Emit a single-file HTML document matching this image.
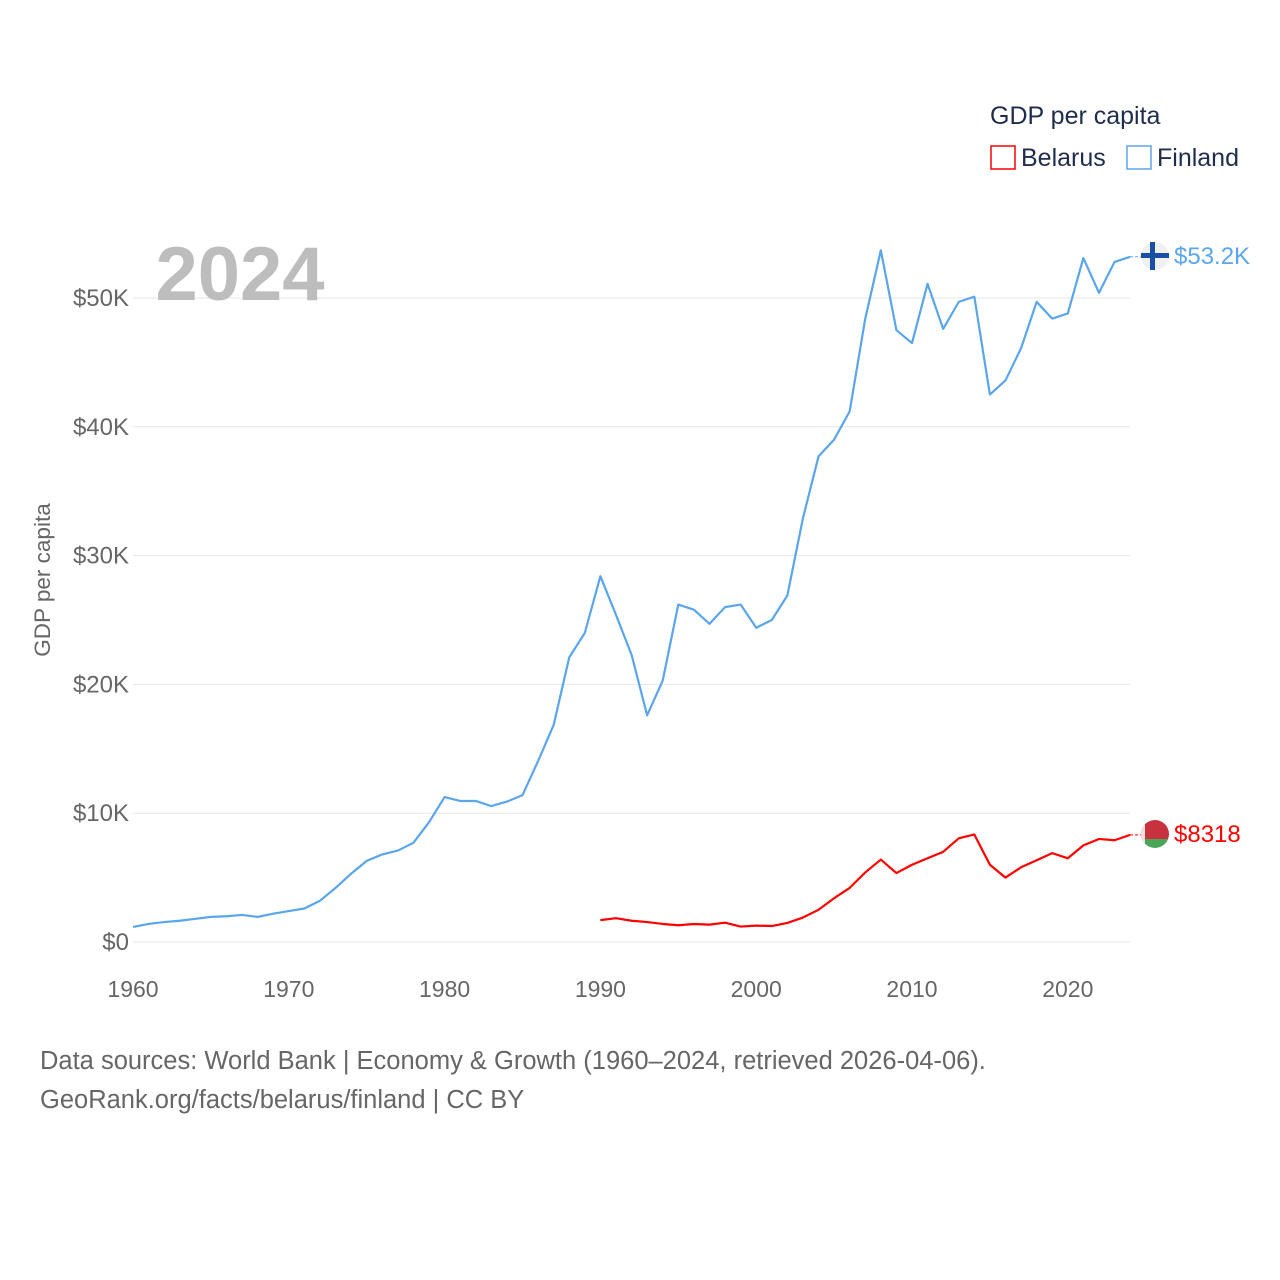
<!DOCTYPE html>
<html><head><meta charset="utf-8"><style>
body{margin:0;background:#fff;}
svg{display:block;font-family:"Liberation Sans",sans-serif;}
</style></head><body>
<svg id="chart" width="1280" height="1280">
  <g id="grid"></g>
  <g id="yticks"></g>
  <g id="xticks"></g>
  <text x="240" y="300" font-size="76" font-weight="bold" fill="#bdbdbd" text-anchor="middle">2024</text>
  <text transform="translate(50,580) rotate(-90)" font-size="22.5" fill="#666" text-anchor="middle">GDP per capita</text>
  <g id="series"></g>
  <g>
    <text x="990" y="124" font-size="25" fill="#1f2d4d">GDP per capita</text>
    <g>
      <rect x="991" y="146" width="24" height="23" fill="none" stroke="#ff0000" stroke-width="1.5"/>
      <text x="1021" y="166" font-size="25" fill="#1f2d4d">Belarus</text>
    </g>
    <g>
      <rect x="1127" y="146" width="24" height="23" fill="none" stroke="#5aa5ec" stroke-width="1.5"/>
      <text x="1157" y="166" font-size="25" fill="#1f2d4d">Finland</text>
    </g>
  </g>
  <g>
    <circle cx="1155" cy="256" r="14" fill="#f0f0f0"/>
    <rect x="1141" y="253" width="28" height="5" fill="#1a4fa8"/>
    <rect x="1150" y="242" width="5" height="28" fill="#1a4fa8"/>
  </g>
  <g>
    <clipPath id="bc"><circle cx="1155" cy="834" r="14"/></clipPath>
    <g clip-path="url(#bc)">
      <rect x="1140" y="819" width="30" height="20" fill="#c8313e"/>
      <rect x="1140" y="839" width="30" height="10" fill="#4aa657"/>
      <rect x="1140" y="819" width="5" height="30" fill="#f5e0e0"/>
    </g>
  </g>
  <text x="1174" y="264" font-size="24" fill="#5aa5ec">$53.2K</text>
  <text x="1174" y="842" font-size="24" fill="#ff0000">$8318</text>
  <text x="40" y="1069" font-size="25.5" fill="#666">Data sources: World Bank | Economy &amp; Growth (1960–2024, retrieved 2026-04-06).</text>
  <text x="40" y="1108" font-size="25.5" fill="#666">GeoRank.org/facts/belarus/finland | CC BY</text>
</svg>
<script>
const yearsFinland = [];
for (let y = 1960; y <= 2024; y++) yearsFinland.push(y);
const finlandValues = [1.17,1.4,1.55,1.65,1.8,1.95,2.0,2.1,1.95,2.2,2.4,2.6,3.2,4.2,5.3,6.3,6.8,7.1,7.7,9.3,11.25,10.95,10.95,10.55,10.9,11.4,14.05,16.85,22.1,24.0,28.4,25.4,22.3,17.6,20.3,26.2,25.8,24.7,26.0,26.2,24.4,25.0,26.9,32.9,37.7,39.0,41.2,48.4,53.7,47.5,46.5,51.1,47.6,49.7,50.1,42.5,43.6,46.1,49.7,48.4,48.8,53.1,50.4,52.8,53.2];
const yearsBelarus = [];
for (let y = 1990; y <= 2024; y++) yearsBelarus.push(y);
const belarusValues = [1.7,1.85,1.65,1.55,1.4,1.3,1.4,1.35,1.5,1.2,1.27,1.24,1.48,1.9,2.5,3.4,4.2,5.4,6.4,5.35,6.0,6.5,7.0,8.05,8.35,6.0,5.0,5.8,6.35,6.9,6.5,7.5,8.0,7.9,8.318];
const yTicks = [0,10,20,30,40,50];
const yTickLabels = ["$0","$10K","$20K","$30K","$40K","$50K"];
const xTicks = [1960,1970,1980,1990,2000,2010,2020];

const NS = "http://www.w3.org/2000/svg";
const x = yr => 133 + (yr - 1960) * 15.58;
const y = v => 942 - v * 12.88;

const grid = document.getElementById('grid'), yt = document.getElementById('yticks'), xt = document.getElementById('xticks'), series = document.getElementById('series');
yTicks.forEach((t, i) => {
  const l = document.createElementNS(NS, 'line');
  l.setAttribute('x1', 133); l.setAttribute('x2', 1130);
  l.setAttribute('y1', y(t)); l.setAttribute('y2', y(t));
  l.setAttribute('stroke', '#e6e6e6'); l.setAttribute('stroke-width', 1);
  
  
  grid.appendChild(l);
  const tx = document.createElementNS(NS, 'text');
  tx.setAttribute('x', 129); tx.setAttribute('y', y(t) + 8);
  tx.setAttribute('text-anchor', 'end'); tx.setAttribute('font-size', 24); tx.setAttribute('fill', '#666');
  tx.textContent = yTickLabels[i];
  
  
  yt.appendChild(tx);
});
xTicks.forEach(t => {
  const tx = document.createElementNS(NS, 'text');
  tx.setAttribute('x', x(t)); tx.setAttribute('y', 997);
  tx.setAttribute('text-anchor', 'middle'); tx.setAttribute('font-size', 23); tx.setAttribute('fill', '#666');
  tx.textContent = t;
  
  
  xt.appendChild(tx);
});
function drawLine(years, vals, color, name) {
  const p = document.createElementNS(NS, 'polyline');
  p.setAttribute('points', years.map((yr, i) => x(yr) + ',' + y(vals[i])).join(' '));
  p.setAttribute('fill', 'none'); p.setAttribute('stroke', color); p.setAttribute('stroke-width', 2.2);
  p.setAttribute('stroke-linejoin', 'round');
  
  
  series.appendChild(p);
  const last = vals[vals.length - 1];
  const d = document.createElementNS(NS, 'line');
  d.setAttribute('x1', x(years[years.length - 1])); d.setAttribute('x2', 1141);
  d.setAttribute('y1', y(last)); d.setAttribute('y2', y(last));
  d.setAttribute('stroke', color); d.setAttribute('stroke-dasharray', '3,2');
  
  
  series.appendChild(d);
}
drawLine(yearsFinland, finlandValues, '#5aa5ec', 'finland-line');
drawLine(yearsBelarus, belarusValues, '#ff0000', 'belarus-line');
</script>
</body></html>
